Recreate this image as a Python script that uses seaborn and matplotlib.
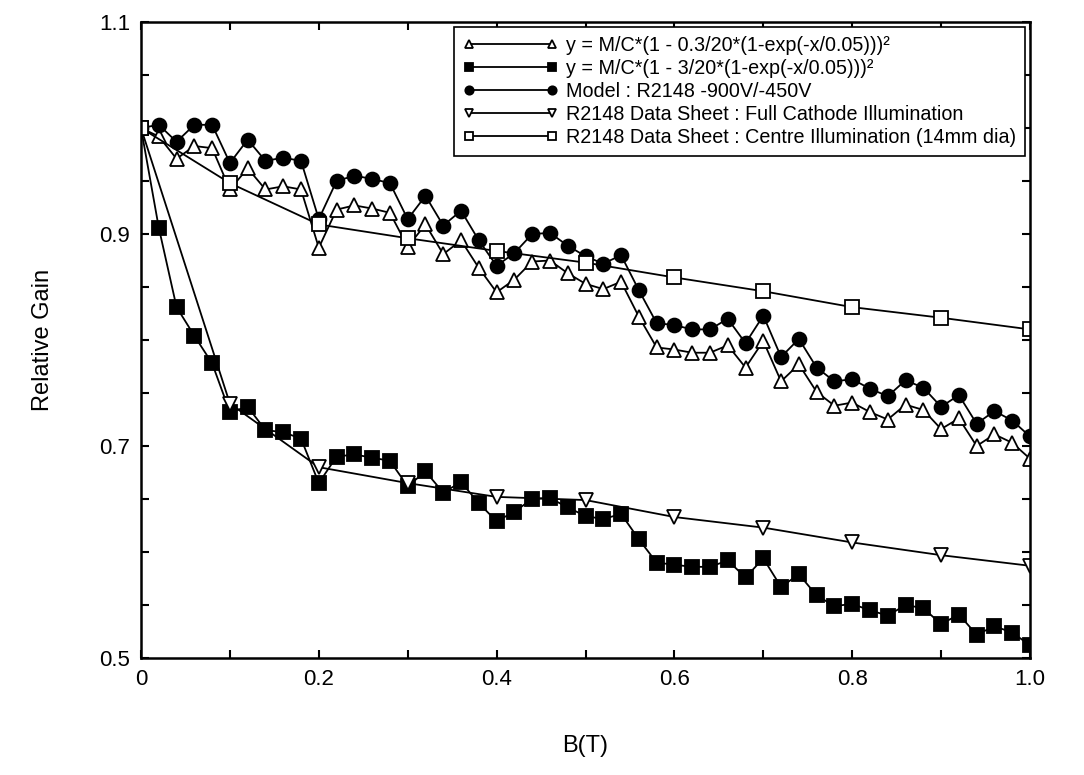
import matplotlib
matplotlib.use("Agg")
import matplotlib.pyplot as plt
import numpy as np
import pandas as pd
import seaborn as sns
from matplotlib.ticker import MultipleLocator

# ---------------- data ----------------
b_fine = [round(0.02 * i, 2) for i in range(51)]
b_sheet = [0.0, 0.1, 0.2, 0.3, 0.4, 0.5, 0.6, 0.7, 0.8, 0.9, 1.0]

fit_small = [1.000, 0.992, 0.971, 0.983, 0.981, 0.942, 0.962, 0.942, 0.945, 0.942,
             0.887, 0.923, 0.927, 0.924, 0.920, 0.888, 0.909, 0.881, 0.894, 0.868,
             0.845, 0.857, 0.874, 0.875, 0.863, 0.853, 0.848, 0.855, 0.822, 0.793,
             0.791, 0.788, 0.788, 0.795, 0.774, 0.799, 0.761, 0.777, 0.751, 0.738,
             0.741, 0.732, 0.725, 0.739, 0.734, 0.716, 0.726, 0.700, 0.711, 0.703,
             0.688]

fit_large = [1.000, 0.906, 0.831, 0.804, 0.778, 0.732, 0.737, 0.715, 0.713, 0.707,
             0.665, 0.690, 0.692, 0.689, 0.686, 0.662, 0.676, 0.656, 0.666, 0.646,
             0.629, 0.638, 0.650, 0.651, 0.642, 0.634, 0.631, 0.636, 0.612, 0.590,
             0.588, 0.586, 0.586, 0.592, 0.576, 0.594, 0.567, 0.579, 0.559, 0.549,
             0.551, 0.545, 0.540, 0.550, 0.547, 0.532, 0.541, 0.522, 0.530, 0.524,
             0.512]

model = [1.000, 1.003, 0.987, 1.003, 1.003, 0.967, 0.989, 0.969, 0.972, 0.969,
         0.914, 0.950, 0.955, 0.952, 0.948, 0.914, 0.936, 0.908, 0.922, 0.894,
         0.870, 0.882, 0.900, 0.901, 0.889, 0.879, 0.872, 0.880, 0.847, 0.816,
         0.814, 0.810, 0.810, 0.820, 0.797, 0.823, 0.784, 0.801, 0.774, 0.761,
         0.763, 0.754, 0.747, 0.762, 0.755, 0.737, 0.748, 0.721, 0.733, 0.724,
         0.709]

sheet_full = [1.000, 0.740, 0.680, 0.665, 0.652, 0.649, 0.633, 0.623, 0.609, 0.597, 0.587]
sheet_centre = [1.000, 0.948, 0.909, 0.896, 0.884, 0.873, 0.859, 0.846, 0.831, 0.821, 0.810]

labels = [
    "y = M/C*(1 - 0.3/20*(1-exp(-x/0.05)))\u00b2",
    "y = M/C*(1 - 3/20*(1-exp(-x/0.05)))\u00b2",
    "Model : R2148 -900V/-450V",
    "R2148 Data Sheet : Full Cathode Illumination",
    "R2148 Data Sheet : Centre Illumination (14mm dia)",
]

# ---------------- style ----------------
sns.set_style("ticks")
plt.rcParams["font.family"] = ["Liberation Sans", "DejaVu Sans"]
plt.rcParams["text.color"] = "black"
plt.rcParams["axes.labelcolor"] = "black"
plt.rcParams["xtick.color"] = "black"
plt.rcParams["ytick.color"] = "black"

fig = plt.figure(figsize=(10.84, 7.75), dpi=100)
ax = fig.add_axes([141 / 1084, 1 - 658 / 775, (1030 - 141) / 1084, (658 - 22) / 775])

series = [
    (b_fine, fit_small, labels[0], "^", "white", 9.5),
    (b_fine, fit_large, labels[1], "s", "black", 9.5),
    (b_fine, model, labels[2], "o", "black", 10),
    (b_sheet, sheet_full, labels[3], "v", "white", 9.5),
    (b_sheet, sheet_centre, labels[4], "s", "white", 9.5),
]

for xs, ys, lab, mk, fc, ms in series:
    df = pd.DataFrame({"B": xs, "G": ys})
    sns.lineplot(data=df, x="B", y="G", ax=ax, color="black", linewidth=1.3,
                 marker=mk, markersize=ms, markerfacecolor=fc,
                 markeredgecolor="black", markeredgewidth=1.3,
                 estimator=None, sort=False, label=lab)

ax.set_xlim(0, 1.0)
ax.set_ylim(0.5, 1.1)
ax.set_xticks([0, 0.2, 0.4, 0.6, 0.8, 1.0])
ax.set_xticklabels(["0", "0.2", "0.4", "0.6", "0.8", "1.0"])
ax.set_yticks([0.5, 0.7, 0.9, 1.1])
ax.set_yticklabels(["0.5", "0.7", "0.9", "1.1"])
ax.xaxis.set_minor_locator(MultipleLocator(0.1))
ax.yaxis.set_minor_locator(MultipleLocator(0.05))
ax.tick_params(which="both", direction="in", top=True, right=True,
               length=6, width=1.5, labelsize=16, pad=8)
for sp in ax.spines.values():
    sp.set_linewidth(1.8)
    sp.set_color("black")

ax.set_xlabel("B(T)", fontsize=17, labelpad=32)
ax.set_ylabel("Relative Gain", fontsize=17, labelpad=32)

leg = ax.legend(loc="upper left", bbox_to_anchor=(454 / 1084, 1 - 27 / 775),
                bbox_transform=fig.transFigure, numpoints=2, handlelength=4.8,
                markerscale=0.6, frameon=True, fancybox=False, edgecolor="black",
                framealpha=1, fontsize=14.2, labelspacing=0.2, borderpad=0.45,
                handletextpad=0.45, borderaxespad=0)
leg.get_frame().set_linewidth(1.2)

fig.savefig("out.png", dpi=100)
